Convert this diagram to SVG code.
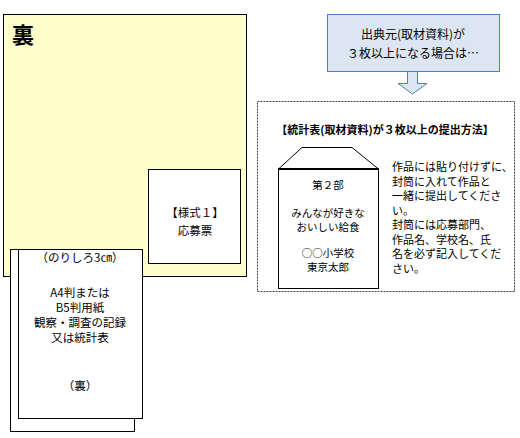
<svg xmlns="http://www.w3.org/2000/svg" width="520" height="438" viewBox="0 0 520 438">
<style>
text{font-family:"Noto Sans CJK JP","Noto Sans",sans-serif;fill:#000;}
.t12{font-size:11.5px;text-anchor:middle;}
.env{font-size:10.5px;text-anchor:middle;}
.t11{font-size:11px;}
.box{fill:#fff;stroke:#000;stroke-width:1;}
.blue{fill:#DCE6F2;stroke:#4F81BD;stroke-width:1;}
</style>
<rect width="520" height="438" fill="#fff"/>
<g id="back-sheet">
<rect x="3.5" y="14.5" width="243" height="262" fill="#FFFFCC" stroke="#000"/>
<text x="12" y="43" style="font-size:22px;font-weight:bold">裏</text>
</g>
<g id="form1">
<rect class="box" x="148.5" y="169.5" width="92" height="94"/>
<text class="t12" x="195" y="217">【様式１】</text>
<text class="t12" x="195" y="235">応募票</text>
</g>
<g id="paper">
<rect class="box" x="10.5" y="249.5" width="124" height="182"/>
<rect class="box" x="18.5" y="249.5" width="124" height="169"/>
<text class="t12" x="80" y="262">（のりしろ3㎝）</text>
<text class="t12" x="80" y="297">A4判または</text>
<text class="t12" x="80" y="312">B5判用紙</text>
<text class="t12" x="80" y="327">観察・調査の記録</text>
<text class="t12" x="80" y="342">又は統計表</text>
<text class="t12" x="80" y="390">（裏）</text>
</g>
<g id="note">
<rect class="blue" x="327.5" y="14.5" width="172" height="57"/>
<text class="t12" x="413" y="39" style="font-size:12px">出典元(取材資料)が</text>
<text class="t12" x="413" y="58" style="font-size:12px">３枚以上になる場合は…</text>
</g>
<g id="connectors">
<polygon class="blue" points="407.5,71.5 417.5,71.5 417.5,83.5 427,83.5 412.5,94 398,83.5 407.5,83.5"/>
</g>
<g id="method">
<rect x="257.5" y="101.5" width="257" height="190" fill="none" stroke="#444" stroke-dasharray="2,1"/>
<text x="385" y="134" style="font-size:11px;font-weight:bold;text-anchor:middle">【統計表(取材資料)が３枚以上の提出方法】</text>
<g id="envelope">
<polygon points="278.5,169 302,147.5 352,147.5 378.5,169" fill="#fff" stroke="#000"/>
<rect class="box" x="278.5" y="169" width="100" height="119.5"/>
<line x1="278" y1="169" x2="379" y2="169" stroke="#000" stroke-width="2"/>
<text class="env" x="328" y="189">第２部</text>
<text class="env" x="328" y="217">みんなが好きな</text>
<text class="env" x="328" y="231">おいしい給食</text>
<text class="env" x="328" y="257">○○小学校</text>
<text class="env" x="328" y="271">東京太郎</text>
</g>
<g id="instructions">
<text class="t11" x="392" y="171">作品には貼り付けずに、</text>
<text class="t11" x="392" y="185.5">封筒に入れて作品と</text>
<text class="t11" x="392" y="200">一緒に提出してくださ</text>
<text class="t11" x="392" y="214.5">い。</text>
<text class="t11" x="392" y="229">封筒には応募部門、</text>
<text class="t11" x="392" y="243.5">作品名、学校名、氏</text>
<text class="t11" x="392" y="258">名を必ず記入してくだ</text>
<text class="t11" x="392" y="272.5">さい。</text>
</g>
</g>
</svg>
